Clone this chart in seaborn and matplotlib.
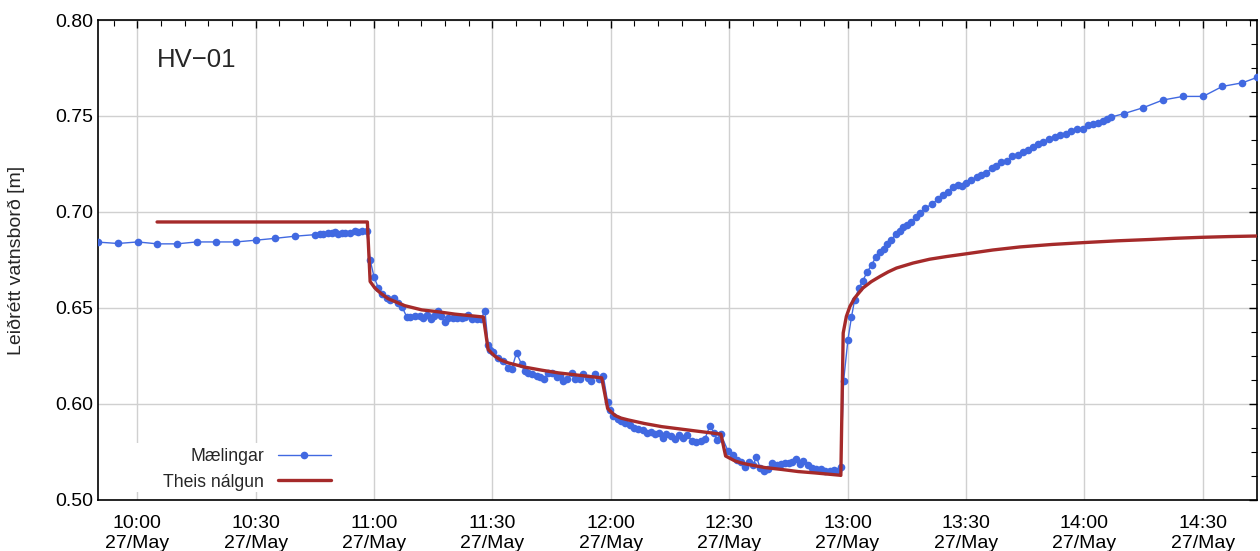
import matplotlib
matplotlib.use("Agg")
import matplotlib.pyplot as plt
import matplotlib.dates as mdates
from matplotlib.patches import Rectangle
from matplotlib.ticker import FixedLocator, FixedFormatter, MultipleLocator
import pandas as pd
import seaborn as sns

# ---- data -------------------------------------------------------------
DAY_START = pd.Timestamp("2020-05-27 10:00")   # minutes below are counted from here

meas_min = [
    -9.9, -4.9, 0.1, 5.1, 10.0, 15.0, 20.0, 25.0, 30.0, 35.0, 40.0, 45.0,
    46.3, 47.1, 48.4, 49.3, 50.1, 50.9, 51.8, 52.6, 53.9, 55.1, 56.0, 56.9, 58.1,
    59.0, 60.0, 61.1, 62.1, 63.2, 64.0, 65.1, 66.1, 67.1, 68.3,
    69.1, 70.4, 71.6, 72.5, 73.3, 74.4, 75.2, 76.1, 76.9, 78.0,
    78.8, 80.1, 80.9, 82.2, 83.0, 83.9, 84.7, 86.0, 87.1, 88.1,
    88.9, 89.4, 90.2, 91.5, 92.7, 94.0, 94.9, 96.1, 97.4, 98.2,
    99.1, 100.1, 101.2, 102.0, 103.1, 104.1, 105.1, 106.3, 107.1, 107.9,
    109.0, 110.1, 110.9, 112.2, 113.0, 114.1, 115.1, 116.0, 117.0, 118.1,
    119.2, 119.8, 120.6, 121.7, 122.7, 123.7, 124.8, 125.9, 126.9, 128.2,
    129.3, 130.3, 131.2, 132.2, 133.3, 134.1, 135.2, 136.2, 137.2, 138.3,
    139.4, 140.6, 141.7, 142.8, 143.8, 145.1, 146.2, 146.8, 147.9,
    149.7, 151.0, 152.1, 153.0, 154.0, 155.0, 156.1, 156.9, 157.8, 158.9,
    159.9, 160.9, 162.0, 163.1, 164.1, 165.1, 165.9, 167.0, 167.9, 168.7,
    169.9, 170.9, 172.1, 173.2, 174.2, 175.5, 176.6, 177.6, 178.3,
    179.0, 180.1, 181.0, 181.8, 182.9, 183.9, 184.9, 186.1, 187.2, 188.2,
    189.2, 190.0, 191.1, 192.2, 193.2, 194.1, 195.1, 196.2, 197.3, 198.3,
    199.6, 201.3, 202.9, 204.2, 205.5, 206.7, 208.0, 209.1, 210.1, 211.4,
    212.7, 213.9, 215.2, 216.5, 217.7, 219.0, 220.3, 221.8, 223.2, 224.5,
    225.7, 227.0, 228.3, 229.5, 231.1, 232.5, 233.8, 235.3, 236.7, 238.2,
    239.7, 241.0, 242.2, 243.5, 244.7, 245.8, 246.9, 250.0, 254.9, 259.9,
    265.0, 270.1, 275.0, 280.1, 283.9,
]
meas_level = [
    0.6843, 0.6836, 0.6844, 0.6834, 0.6834, 0.6844, 0.6844, 0.6844, 0.6853, 0.6863, 0.6874, 0.6882,
    0.6884, 0.6886, 0.6889, 0.6893, 0.6895, 0.6886, 0.6893, 0.6893, 0.6893, 0.6900, 0.6895, 0.6901, 0.6903,
    0.6751, 0.6661, 0.6604, 0.6574, 0.6552, 0.6539, 0.6552, 0.6526, 0.6505, 0.6453,
    0.6453, 0.6460, 0.6456, 0.6448, 0.6465, 0.6444, 0.6456, 0.6484, 0.6456, 0.6425,
    0.6448, 0.6448, 0.6448, 0.6448, 0.6453, 0.6462, 0.6444, 0.6443, 0.6443, 0.6486,
    0.6309, 0.6283, 0.6269, 0.6240, 0.6223, 0.6188, 0.6183, 0.6266, 0.6206, 0.6171,
    0.6159, 0.6154, 0.6145, 0.6142, 0.6131, 0.6159, 0.6162, 0.6142, 0.6148, 0.6119,
    0.6128, 0.6159, 0.6131, 0.6128, 0.6154, 0.6136, 0.6119, 0.6154, 0.6128, 0.6145,
    0.6010, 0.5968, 0.5937, 0.5920, 0.5911, 0.5903, 0.5889, 0.5877, 0.5872, 0.5865,
    0.5851, 0.5854, 0.5842, 0.5851, 0.5825, 0.5842, 0.5833, 0.5820, 0.5837, 0.5825,
    0.5837, 0.5807, 0.5802, 0.5807, 0.5816, 0.5885, 0.5851, 0.5813, 0.5842,
    0.5755, 0.5733, 0.5709, 0.5698, 0.5674, 0.5698, 0.5681, 0.5726, 0.5669, 0.5652,
    0.5660, 0.5695, 0.5681, 0.5686, 0.5695, 0.5692, 0.5698, 0.5716, 0.5686, 0.5704,
    0.5681, 0.5664, 0.5660, 0.5660, 0.5652, 0.5652, 0.5657, 0.5652, 0.5674,
    0.6119, 0.6335, 0.6453, 0.6543, 0.6604, 0.6643, 0.6685, 0.6725, 0.6765, 0.6794,
    0.6806, 0.6834, 0.6855, 0.6884, 0.6903, 0.6921, 0.6933, 0.6950, 0.6976, 0.6993,
    0.7019, 0.7040, 0.7066, 0.7088, 0.7105, 0.7128, 0.7138, 0.7135, 0.7152, 0.7166,
    0.7180, 0.7192, 0.7204, 0.7227, 0.7240, 0.7261, 0.7266, 0.7290, 0.7295, 0.7311,
    0.7325, 0.7339, 0.7353, 0.7365, 0.7382, 0.7391, 0.7399, 0.7404, 0.7422, 0.7434,
    0.7434, 0.7451, 0.7456, 0.7463, 0.7474, 0.7486, 0.7495, 0.7512, 0.7543, 0.7583,
    0.7602, 0.7602, 0.7654, 0.7673, 0.7702,
]

theis_min = [
    5.0, 58.3,
    59.0, 60.2, 61.6, 63.6, 67.8, 72.1, 76.3, 80.5, 87.7,
    88.9, 90.6, 92.0, 94.0, 98.2, 102.5, 106.7, 110.9, 117.7,
    119.2, 121.0, 122.5, 124.4, 128.6, 132.9, 137.1, 141.3, 147.9,
    149.1, 151.4, 152.9, 154.8, 159.0, 163.3, 167.5, 171.7, 178.0, 178.3,
    178.9, 179.7, 180.6, 181.8, 183.9, 186.0, 188.2, 190.3, 192.4, 196.6,
    200.8, 205.1, 210.0, 216.8, 223.7, 231.9, 240.2, 248.5, 256.9, 263.0,
    269.6, 276.7, 283.9,
]
theis_level = [
    0.6948, 0.6948,
    0.6638, 0.6604, 0.6578, 0.6548, 0.6512, 0.6490, 0.6480, 0.6468, 0.6453,
    0.6284, 0.6249, 0.6230, 0.6214, 0.6192, 0.6176, 0.6162, 0.6152, 0.6136,
    0.5976, 0.5941, 0.5927, 0.5917, 0.5898, 0.5882, 0.5871, 0.5860, 0.5843,
    0.5729, 0.5704, 0.5694, 0.5685, 0.5669, 0.5659, 0.5648, 0.5641, 0.5629, 0.5628,
    0.6370, 0.6456, 0.6508, 0.6552, 0.6604, 0.6637, 0.6664, 0.6688, 0.6708, 0.6734,
    0.6754, 0.6768, 0.6782, 0.6802, 0.6818, 0.6831, 0.6841, 0.6850, 0.6857, 0.6863,
    0.6868, 0.6872, 0.6875,
]

ytick_values = [0.55, 0.60, 0.65, 0.70, 0.75, 0.80]
ytick_labels = ["0.50", "0.60", "0.65", "0.70", "0.75", "0.80"]
series_labels = ["Mælingar", "Theis nálgun"]
well_name = "HV\u221201"
y_title = "Leiðrétt vatnsborð [m]"

# ---- frames --------------------------------------------------------------
meas = pd.DataFrame({
    "time": DAY_START + pd.to_timedelta(meas_min, unit="min"),
    "level": meas_level,
})
theis = pd.DataFrame({
    "time": DAY_START + pd.to_timedelta(theis_min, unit="min"),
    "level": theis_level,
})

# ---- style ---------------------------------------------------------------
sns.set_theme(style="white")
plt.rcParams["font.family"] = ["Liberation Sans", "DejaVu Sans"]
plt.rcParams["axes.unicode_minus"] = True

BLUE = "#4169E1"
RED = "#A52A2A"

fig = plt.figure(figsize=(12.6, 5.51), dpi=100)
ax = fig.add_axes([0.078, 0.0926, 0.920, 0.8711])

sns.lineplot(data=meas, x="time", y="level", ax=ax, color=BLUE, lw=1.0,
             marker="o", markersize=5.5, markeredgewidth=0, label=series_labels[0],
             zorder=3)
sns.lineplot(data=theis, x="time", y="level", ax=ax, color=RED, lw=2.4,
             label=series_labels[1], zorder=4)

# ---- axes ----------------------------------------------------------------
ax.set_xlim(DAY_START + pd.Timedelta(minutes=-9.9),
            DAY_START + pd.Timedelta(minutes=283.9))
ax.set_ylim(0.55, 0.80)

ax.xaxis.set_major_locator(mdates.MinuteLocator(byminute=[0, 30]))
ax.xaxis.set_minor_locator(mdates.MinuteLocator(byminute=range(0, 60, 6)))
ax.xaxis.set_major_formatter(mdates.DateFormatter("%H:%M\n%d/%b"))

ax.yaxis.set_major_locator(FixedLocator(ytick_values))
ax.yaxis.set_major_formatter(FixedFormatter(ytick_labels))
ax.yaxis.set_minor_locator(MultipleLocator(0.0125))

ax.tick_params(which="both", direction="in", top=True, right=True,
               colors="black", labelsize=14)
ax.tick_params(which="major", length=6, width=1.0)
ax.tick_params(which="minor", length=4, width=0.8)
ax.tick_params(axis="x", which="major", pad=11)
fig.canvas.draw()
for lab in ax.get_xticklabels():
    lab.set_linespacing(1.2)

ax.grid(True, which="major", color="#d0d0d0", lw=1.0)
ax.set_axisbelow(True)
for sp in ax.spines.values():
    sp.set_color("black")
    sp.set_linewidth(1.2)

ax.set_xlabel("")
ax.set_ylabel("")
fig.text(16 / 1260, 0.528, y_title, rotation=90, ha="center", va="center",
         fontsize=14)

ax.text(0.0506, 0.916, well_name, transform=ax.transAxes, ha="left",
        va="center", fontsize=18.5)

# white box behind the key
ax.add_patch(Rectangle((0.02, 0.017), 0.19, 0.102, transform=ax.transAxes,
                       facecolor="white", edgecolor="none", zorder=1))

leg = ax.legend(loc="center right", bbox_to_anchor=(0.2007, 0.064),
                markerfirst=False, frameon=False, borderpad=0,
                borderaxespad=0, handlelength=3.0, handletextpad=0.8,
                labelspacing=0.5, fontsize=12.7)

fig.savefig("out.png", dpi=100)
